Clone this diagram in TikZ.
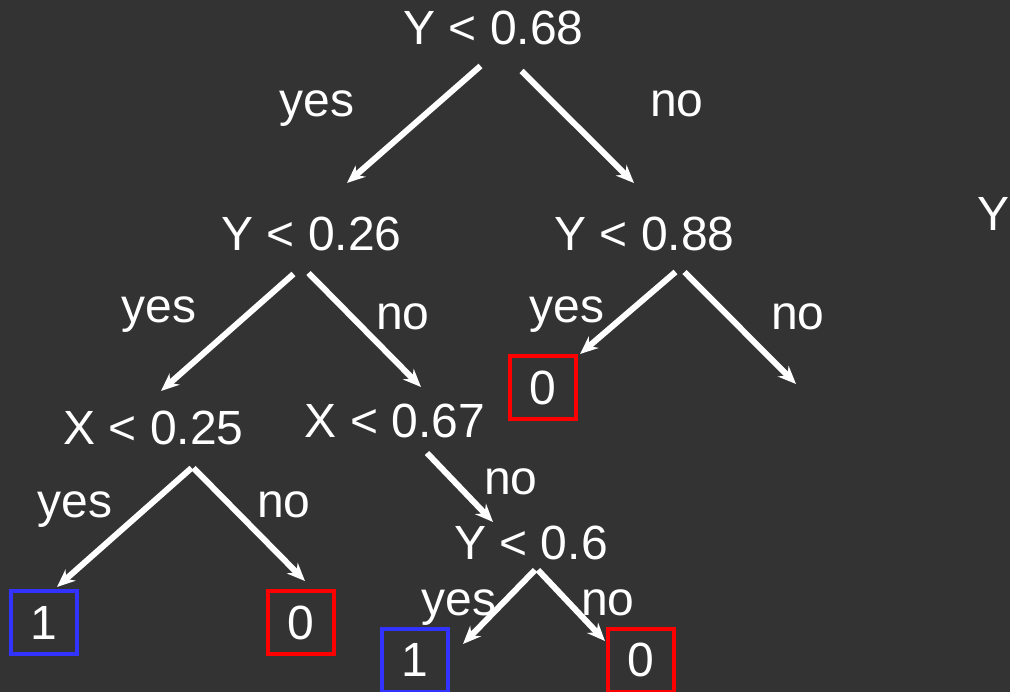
\documentclass[tikz,border=0pt]{standalone}
\usepackage{fontspec}
\setmainfont{Liberation Sans}
\usetikzlibrary{arrows.meta, calc}
\definecolor{bgdark}{HTML}{333333}
\definecolor{leafblue}{HTML}{3333FF}
\definecolor{leafred}{HTML}{FF0000}

\begin{document}
\begin{tikzpicture}[x=1pt, y=-1pt,
		split/.style={text=white, font=\fontsize{48}{48}\selectfont, inner sep=0pt, anchor=base},
		ans/.style={text=white, font=\fontsize{48}{48}\selectfont, inner sep=0pt, anchor=base},
		leaf/.style={draw=#1, line width=4pt, text=white, font=\fontsize{48}{48}\selectfont, minimum width=66pt, minimum height=63pt, inner sep=0pt},
		edge/.style={white, line width=6pt, -{Stealth[length=18pt,width=15pt,inset=6pt]}}]
				\useasboundingbox (0,0) rectangle (1010,692);
				\fill[bgdark] (0,0) rectangle (1010,692);
				% split nodes
				\node[split] (root) at (493.5,45) {Y < 0.68};
				\node[split] (y26) at (311.5,251) {Y < 0.26};
				\node[split] (y88) at (644.5,251) {Y < 0.88};
				\node[split] (x25) at (153.5,445) {X < 0.25};
				\node[split] (x67) at (395,438) {X < 0.67};
				\node[split] (y60) at (531,559) {Y < 0.6};
				\node[split, anchor=base west] (ycut) at (977,231) {Y};
				% leaves
				\node[leaf=leafred] (leaf88) at (542.5,388) {0};
				\node[leaf=leafblue] (leafa) at (43.5,622.5) {1};
				\node[leaf=leafred] (leafb) at (300.5,622.5) {0};
				\node[leaf=leafblue] (leafc) at (415,660) {1};
				\node[leaf=leafred] (leafd) at (641,660) {0};
				% arrow tips
				\coordinate (t1) at (347,183);
				\coordinate (t2) at (634,183);
				\coordinate (t3) at (161,391);
				\coordinate (t4) at (421,387);
				\coordinate (t5) at (580,354);
				\coordinate (t6) at (796,384);
				\coordinate (t7) at (57,587);
				\coordinate (t8) at (305,581);
				\coordinate (t9) at (493,522);
				\coordinate (t10) at (463,644);
				\coordinate (t11) at (605,641);
				% branches
				\draw[edge] ($(root.base)+(-13,21)$) -- (t1);
				\draw[edge] ($(root.base)+(28,26)$) -- (t2);
				\draw[edge] ($(y26.base)+(-18,23)$) -- (t3);
				\draw[edge] ($(y26.base)+(-3,22)$) -- (t4);
				\draw[edge] ($(y88.base)+(31,21)$) -- (t5);
				\draw[edge] ($(y88.base)+(40,21)$) -- (t6);
				\draw[edge] ($(x25.base)+(38,23)$) -- (t7);
				\draw[edge] ($(x25.base)+(40,23)$) -- (t8);
				\draw[edge] ($(x67.base)+(32,15)$) -- (t9);
				\draw[edge] ($(y60.base)+(4,11)$) -- (t10);
				\draw[edge] ($(y60.base)+(7,11)$) -- (t11);
				% answers
				\node[ans] (a1) at (317,117) {yes};
				\node[ans] (a2) at (677,117) {no};
				\node[ans] (a3) at (159,323) {yes};
				\node[ans] (a4) at (403,330) {no};
				\node[ans] (a5) at (567,323) {yes};
				\node[ans] (a6) at (798,330) {no};
				\node[ans] (a7) at (75,518) {yes};
				\node[ans] (a8) at (284,518) {no};
				\node[ans] (a9) at (511,495) {no};
				\node[ans] (a10) at (459,615) {yes};
				\node[ans] (a11) at (608,615) {no};
			\end{tikzpicture}
\end{document}
